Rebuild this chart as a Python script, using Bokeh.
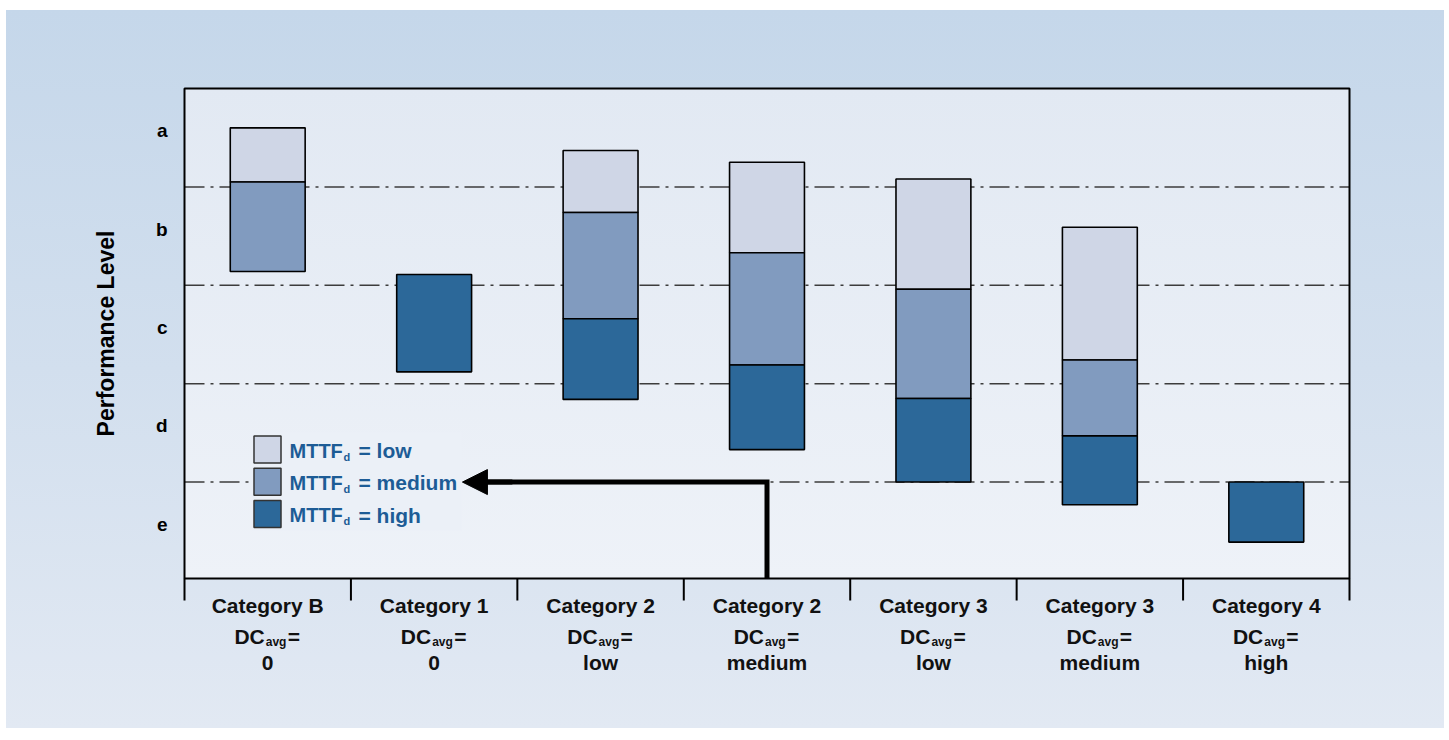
from bokeh.plotting import figure
from bokeh.models import Range1d, Arrow, NormalHead, ColumnDataSource
from bokeh.core.properties import value
from bokeh.embed import file_html
from bokeh.resources import INLINE
import math

# ---------------- data ----------------
categories = ["Category B", "Category 1", "Category 2", "Category 2",
              "Category 3", "Category 3", "Category 4"]
dc_avg = ["0", "0", "low", "medium", "low", "medium", "high"]
level_labels = ["e", "d", "c", "b", "a"]          # bands 0-1, 1-2, ... 4-5
level_centers = [0.5, 1.5, 2.5, 3.5, 4.5]
level_boundaries = [1, 2, 3, 4]

# PL ranges (level units) per MTTFd class; None = not present
low_top = [4.60, None, 4.37, 4.25, 4.08, 3.59, None]
low_bottom = [4.05, None, 3.74, 3.33, 2.96, 2.24, None]
med_top = [4.05, None, 3.74, 3.33, 2.96, 2.24, None]
med_bottom = [3.14, None, 2.66, 2.19, 1.85, 1.47, None]
high_top = [None, 3.11, 2.66, 2.19, 1.85, 1.47, 1.00]
high_bottom = [None, 2.12, 1.84, 1.33, 1.00, 0.77, 0.39]

mttf_names = ["low", "medium", "high"]

arrow_category = 3      # Category 2, DCavg = medium
arrow_level = 1.0       # PL d/e boundary
arrow_tip = 1.67        # where the arrow points (legend "medium")

# ---------------- layout / style ----------------
FONT = "Liberation Sans"
C_LOW, C_MED, C_HIGH = "#cfd6e6", "#819bbf", "#2c6899"
TXT_BLUE = "#1d5c96"
PX_L, PX_R, PX_T, PX_B = 184, 1349, 88, 578     # plot box in pixels
FIG_W, FIG_H = 1444, 728
Y0, Y1 = 0.02, 5.0
n = len(categories)
SX = (PX_R - PX_L) / n
SY = (PX_B - PX_T) / (Y1 - Y0)

def dx(px):
    return (px - PX_L) / SX

def dy(py):
    return Y1 - (py - PX_T) / SY

p = figure(frame_width=FIG_W, frame_height=FIG_H,
           min_border_left=0, min_border_right=0, min_border_top=0, min_border_bottom=0,
           x_range=Range1d(dx(0), dx(FIG_W)), y_range=Range1d(dy(FIG_H), dy(0)),
           x_axis_type=None, y_axis_type=None,
           output_backend="svg", toolbar_location=None, tools="")

p.styles = {"background":
            f"linear-gradient(to bottom, #e2e9f3, #eef2f8) {PX_L}px {PX_T}px / "
            f"{PX_R - PX_L}px {PX_B - PX_T}px no-repeat, "
            "linear-gradient(to bottom, #c5d7ea 0%, #d2dfee 50%, #e2e9f3 100%) "
            "6px 10px / 1438px 718px no-repeat, #ffffff"}
p.border_fill_color = None
p.background_fill_color = None
p.outline_line_color = None

bold = dict(text_font=value(FONT), text_font_style="bold")

# dash-dot level boundaries
p.segment(x0=[0] * len(level_boundaries), x1=[n] * len(level_boundaries),
          y0=level_boundaries, y1=level_boundaries,
          line_color="#3c3c3c", line_width=1.5, line_dash="20 6 3 6")

# bars
BAR_W = 0.45
for tops, bots, col in ((low_top, low_bottom, C_LOW),
                        (med_top, med_bottom, C_MED),
                        (high_top, high_bottom, C_HIGH)):
    xs = [i + 0.5 for i in range(n) if tops[i] is not None]
    t = [v for v in tops if v is not None]
    b = [v for v in bots if v is not None]
    p.vbar(x=xs, top=t, bottom=b, width=BAR_W, fill_color=col,
           line_color="black", line_width=1.6)

# legend background (hides the level line behind the legend)
p.quad(left=[dx(252)], right=[dx(461)], top=[dy(432)], bottom=[dy(530)],
       fill_color="#ebf0f7", line_color=None)

# arrow
ax = arrow_category + 0.5
p.line(x=[ax, ax, arrow_tip + 0.1], y=[Y0, arrow_level, arrow_level],
       line_color="black", line_width=5, line_join="miter")
p.add_layout(Arrow(end=NormalHead(size=25, fill_color="black", line_color="black", line_width=1),
                   x_start=arrow_tip + 0.3, y_start=arrow_level,
                   x_end=arrow_tip, y_end=arrow_level,
                   line_color="black", line_width=5))

# plot box outline and category separators
p.quad(left=[0], right=[n], bottom=[Y0], top=[Y1], fill_color=None,
       line_color="black", line_width=2)
seps = list(range(n + 1))
p.segment(x0=seps, x1=seps, y0=[Y0] * len(seps), y1=[dy(PX_B + 22)] * len(seps),
          line_color="black", line_width=2)

# y axis letters and title
p.text(x=[dx(PX_L - 17)] * len(level_centers), y=[c + 7 / SY for c in level_centers],
       text=level_labels, text_align="right", text_baseline="alphabetic",
       text_font_size="19px", text_color="black", **bold)
p.text(x=[dx(105)], y=[(Y0 + Y1) / 2], text=["Performance Level"], angle=math.pi / 2,
       text_align="center", text_baseline="middle", text_font_size="23px",
       text_color="black", **bold)

# legend (drawn)
leg_top = [435.5 + k * 32.3 for k in range(3)]
p.quad(left=[dx(253.5)] * 3, right=[dx(280.5)] * 3,
       top=[dy(t) for t in leg_top], bottom=[dy(t + 27) for t in leg_top],
       fill_color=[C_LOW, C_MED, C_HIGH], line_color="#333333", line_width=1.5)
base = [t + 14.5 for t in leg_top]
legc = dict(text_color=TXT_BLUE, text_baseline="alphabetic", text_align="left", **bold)
p.text(x=[dx(289)] * 3, y=[dy(b) for b in base], text=["MTTF"] * 3,
       text_font_size="20px", **legc)
p.text(x=[dx(343)] * 3, y=[dy(b + 6) for b in base], text=["d"] * 3,
       text_font_size="11px", **legc)
p.text(x=[dx(358)] * 3, y=[dy(b) for b in base], text=["= " + m for m in mttf_names],
       text_font_size="21px", **legc)

# category labels below the box
src = ColumnDataSource(dict(x=[i + 0.5 for i in range(n)], cat=categories,
                            dc=["DC"] * n, avg=["avg"] * n, eq=["="] * n, val=dc_avg))
catc = dict(text_color="#111111", text_baseline="alphabetic", **bold)
p.text(x="x", y=dy(605), text="cat", source=src, text_align="center",
       text_font_size="21px", **catc)
p.text(x="x", y=dy(636), text="dc", source=src, x_offset=-3, text_align="right",
       text_font_size="21px", **catc)
p.text(x="x", y=dy(641), text="avg", source=src, x_offset=-2, text_align="left",
       text_font_size="12px", **catc)
p.text(x="x", y=dy(636), text="eq", source=src, x_offset=20, text_align="left",
       text_font_size="21px", **catc)
p.text(x="x", y=dy(662), text="val", source=src, text_align="center",
       text_font_size="21px", **catc)

open("out.html", "w").write(file_html(p, INLINE))
